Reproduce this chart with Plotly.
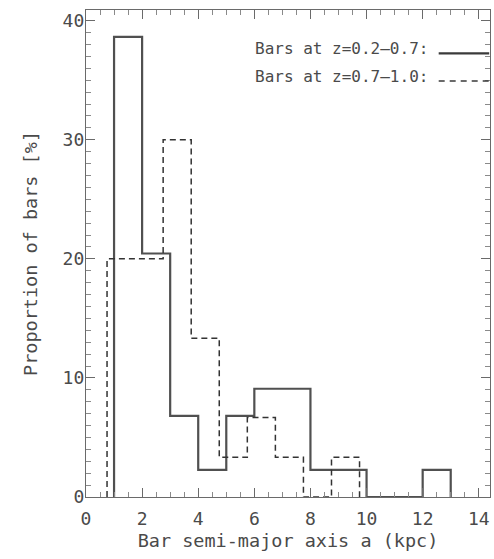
import plotly.graph_objects as go

# Bar-length distributions (percent of bars per 1 kpc bin)
edges_low = [1, 2, 3, 4, 5, 6, 7, 8, 9, 10, 11, 12, 13]
pct_low = [38.64, 20.45, 6.82, 2.27, 6.82, 9.09, 9.09, 2.27, 2.27, 0.0, 0.0, 2.27]

edges_high = [0.75, 1.75, 2.75, 3.75, 4.75, 5.75, 6.75, 7.75, 8.75, 9.75]
pct_high = [20.0, 20.0, 30.0, 13.33, 3.33, 6.67, 3.33, 0.0, 3.33]

label_low = "Bars at z=0.2\u20130.7:"
label_high = "Bars at z=0.7\u20131.0:"

x_ticks = [0, 2, 4, 6, 8, 10, 12, 14]
y_ticks = [0, 10, 20, 30, 40]

FONT = "DejaVu Sans Mono"
INK = "#4a4a4a"


def step_path(edges, vals):
    xs = [edges[0]] + edges[:-1] + [edges[-1]]
    ys = [0] + list(vals) + [0]
    return xs, ys


fig = go.Figure()
xs, ys = step_path(edges_low, pct_low)
fig.add_trace(go.Scatter(x=xs, y=ys, mode="lines", line_shape="hv",
                         line=dict(color="#505050", width=2.2), showlegend=False))
xs, ys = step_path(edges_high, pct_high)
fig.add_trace(go.Scatter(x=xs, y=ys, mode="lines", line_shape="hv",
                         line=dict(color="#333333", width=1.5, dash="6px,4px"),
                         showlegend=False))

# Legend rows: text followed by a line sample on the right
for i, (txt, dash, w) in enumerate([(label_low, "solid", 2.2), (label_high, "6px,5px", 1.5)]):
    yp = 0.920 - i * 0.057
    fig.add_annotation(x=0.413, y=yp, xref="paper", yref="paper", text=txt,
                       showarrow=False, xanchor="left", yanchor="middle",
                       font=dict(family=FONT, size=16, color=INK))
    fig.add_shape(type="line", xref="paper", yref="paper",
                  x0=0.873, x1=0.998, y0=yp - 0.009, y1=yp - 0.009,
                  line=dict(color="#3a3a3a", width=w, dash=dash))

axis_common = dict(
    showline=True, linecolor="#6a6a6a", linewidth=1.3, mirror="allticks",
    ticks="inside", ticklen=9, tickcolor="#6a6a6a", tickwidth=1.2,
    showgrid=False, zeroline=False,
    tickfont=dict(family=FONT, size=18, color=INK),
)

fig.update_xaxes(range=[0, 14.4], tickvals=x_ticks, ticklabelstandoff=5,
                 minor=dict(ticks="inside", dtick=0.5, ticklen=5, tickcolor="#8a8a8a", tickwidth=1),
                 title=dict(text="Bar semi-major axis a (kpc)", standoff=6,
                            font=dict(family=FONT, size=18.5, color=INK)),
                 **axis_common)
fig.update_yaxes(range=[0, 40.9], tickvals=y_ticks, ticklabelstandoff=-3,
                 minor=dict(ticks="inside", dtick=1, ticklen=5, tickcolor="#8a8a8a", tickwidth=1),
                 title=dict(text="Proportion of bars [%]", standoff=20,
                            font=dict(family=FONT, size=18.5, color=INK)),
                 **axis_common)

fig.update_layout(
    width=494, height=559,
    margin=dict(l=86, r=4, t=10, b=62),
    plot_bgcolor="white", paper_bgcolor="white",
    font=dict(family=FONT, color=INK),
)

fig.write_html("out.html")
